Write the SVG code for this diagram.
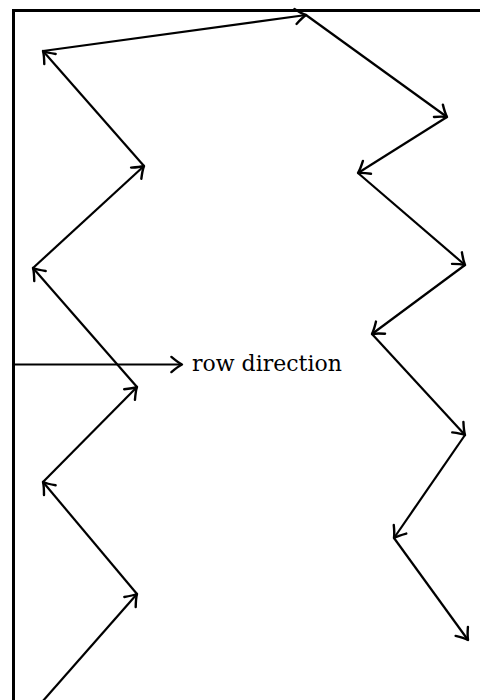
<svg xmlns="http://www.w3.org/2000/svg" width="480" height="700" viewBox="0 0 480 700">
<style>
.frame{stroke:#000;stroke-width:3;fill:none;stroke-linecap:square}
.seg{stroke:#000;stroke-width:2.2;fill:none;marker-end:url(#ah)}
.lbl{font-family:"DejaVu Serif","Liberation Serif",serif;font-size:22px;fill:#000}
</style>
<defs>
<marker id="ah" markerUnits="userSpaceOnUse" markerWidth="30" markerHeight="30" refX="0" refY="0" viewBox="-15 -15 30 30" orient="auto" overflow="visible">
<path d="M -10.6 -7.6 Q -4 -2 0 0 Q -4 2 -10.6 7.6" fill="none" stroke="#000" stroke-width="2.4" stroke-linecap="round" stroke-linejoin="round"/>
</marker>
</defs>
<rect width="480" height="700" fill="#fff"/>
<g id="frame">
<line class="frame" x1="13.5" y1="10.5" x2="482" y2="10.5"/>
<line class="frame" x1="13.5" y1="10.5" x2="13.5" y2="702"/>
</g>
<g id="connectors">
<line class="seg" x1="42" y1="702" x2="137" y2="594"/>
<line class="seg" x1="137" y1="594" x2="43" y2="482"/>
<line class="seg" x1="43" y1="482" x2="137" y2="387"/>
<line class="seg" x1="137" y1="387" x2="33" y2="268"/>
<line class="seg" x1="33" y1="268" x2="144" y2="166"/>
<line class="seg" x1="144" y1="166" x2="43" y2="51"/>
<line class="seg" x1="43" y1="51" x2="306" y2="15"/>
<line class="seg" x1="306" y1="15" x2="447" y2="117"/>
<line class="seg" x1="447" y1="117" x2="358" y2="173"/>
<line class="seg" x1="358" y1="173" x2="465" y2="265"/>
<line class="seg" x1="465" y1="265" x2="372" y2="334"/>
<line class="seg" x1="372" y1="334" x2="465" y2="435"/>
<line class="seg" x1="465" y1="435" x2="394" y2="538"/>
<line class="seg" x1="394" y1="538" x2="468" y2="640"/>
<line class="seg" x1="14" y1="364.5" x2="182" y2="364.5"/>
</g>
<g id="label">
<text class="lbl" x="192" y="370.5">row direction</text>
</g>
</svg>
